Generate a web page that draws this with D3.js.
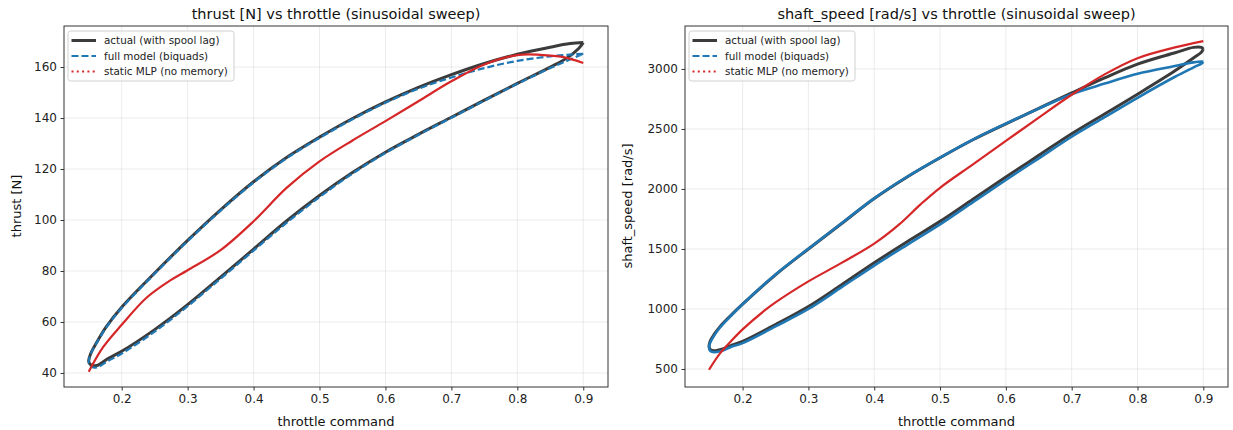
<!DOCTYPE html>
<html>
<head>
<meta charset="utf-8">
<script src="https://cdn.jsdelivr.net/npm/d3@7"></script>
<style>
  body { margin: 0; background: #fff; }
  svg { font-family: "DejaVu Sans", sans-serif; }
</style>
</head>
<body>
<svg id="vis" width="1233" height="430"></svg>
<script>
// ticks
const throttleTicks = [0.2, 0.3, 0.4, 0.5, 0.6, 0.7, 0.8, 0.9];
const thrustTicks = [40, 60, 80, 100, 120, 140, 160];
const speedTicks = [500, 1000, 1500, 2000, 2500, 3000];

const legendLabels = ["actual (with spool lag)", "full model (biquads)", "static MLP (no memory)"];

// thrust panel: loop goes from right tip along upper branch, round left tip, back along lower branch
const thrustActualX = [0.900, 0.880, 0.850, 0.800, 0.750, 0.700, 0.650, 0.600, 0.550, 0.500, 0.450, 0.400, 0.350, 0.300, 0.250, 0.200, 0.177, 0.162, 0.153, 0.150, 0.153, 0.162, 0.180, 0.200, 0.250, 0.300, 0.350, 0.400, 0.450, 0.500, 0.550, 0.600, 0.650, 0.700, 0.750, 0.800, 0.850, 0.875, 0.893, 0.900];
const thrustActualY = [169.6, 169.2, 167.8, 165.0, 161.4, 157.0, 152.0, 146.3, 139.8, 132.5, 124.5, 115.0, 104.0, 92.0, 79.2, 65.8, 58.3, 52.0, 47.6, 44.6, 43.2, 42.9, 45.8, 48.5, 57.0, 66.8, 77.6, 88.6, 99.6, 109.6, 118.6, 126.6, 133.6, 140.3, 147.0, 153.6, 160.0, 163.5, 167.3, 169.6];
const thrustModelX = thrustActualX;
const thrustModelY = [165.2, 164.9, 164.2, 162.4, 159.6, 155.9, 151.5, 146.0, 139.5, 132.2, 124.2, 114.7, 103.7, 91.7, 78.9, 65.5, 58.0, 51.8, 47.6, 44.3, 42.6, 42.2, 44.8, 47.6, 56.2, 66.2, 77.0, 88.0, 98.9, 109.0, 118.2, 126.3, 133.4, 140.1, 146.8, 153.4, 159.6, 162.4, 164.4, 165.2];
const thrustStaticX = [0.150, 0.172, 0.200, 0.238, 0.273, 0.300, 0.350, 0.400, 0.450, 0.500, 0.550, 0.600, 0.650, 0.700, 0.750, 0.800, 0.835, 0.870, 0.900];
const thrustStaticY = [40.5, 50.2, 58.9, 69.6, 76.2, 80.3, 88.2, 99.5, 112.6, 123.0, 131.2, 138.8, 146.6, 154.4, 161.0, 164.7, 164.8, 163.9, 161.6];

// shaft speed panel, same loop order
const speedActualX = [0.900, 0.897, 0.885, 0.857, 0.800, 0.750, 0.700, 0.650, 0.600, 0.550, 0.500, 0.450, 0.400, 0.350, 0.300, 0.250, 0.200, 0.180, 0.166, 0.157, 0.151, 0.149, 0.151, 0.157, 0.170, 0.182, 0.200, 0.250, 0.300, 0.350, 0.400, 0.450, 0.500, 0.550, 0.600, 0.650, 0.700, 0.750, 0.800, 0.857, 0.886, 0.897, 0.900];
const speedActualY = [3165, 3180, 3180, 3135, 3040, 2925, 2800, 2672, 2543, 2410, 2260, 2100, 1920, 1710, 1500, 1285, 1040, 935, 855, 790, 735, 690, 662, 652, 668, 695, 730, 870, 1020, 1200, 1385, 1560, 1730, 1915, 2100, 2280, 2460, 2625, 2790, 2985, 3095, 3140, 3165];
const speedModelX = speedActualX;
const speedModelY = [3060, 3062, 3055, 3025, 2960, 2878, 2790, 2670, 2545, 2412, 2262, 2102, 1922, 1712, 1502, 1287, 1040, 930, 848, 780, 722, 680, 650, 640, 654, 683, 716, 855, 1000, 1180, 1362, 1535, 1705, 1890, 2075, 2255, 2435, 2598, 2760, 2935, 3015, 3045, 3060];
const speedStaticX = [0.149, 0.166, 0.182, 0.200, 0.234, 0.250, 0.300, 0.349, 0.400, 0.438, 0.470, 0.500, 0.550, 0.600, 0.650, 0.700, 0.750, 0.800, 0.857, 0.900];
const speedStaticY = [494, 632, 729, 830, 990, 1055, 1230, 1380, 1545, 1705, 1870, 2010, 2205, 2400, 2595, 2785, 2955, 3090, 3180, 3232];

const svg = d3.select("#vis");
const zip = (xs, ys) => xs.map((x, i) => [x, ys[i]]);

function panel(opts) {
  let x = d3.scaleLinear().domain([0.1125, 0.9375]).range([opts.left, opts.right]);
  let y = d3.scaleLinear().domain(opts.yDomain).range([387, 26]);
  let g = svg.append("g");

  // grid
  g.append("g").selectAll("line").data(throttleTicks).enter().append("line")
    .attr("x1", d => x(d)).attr("x2", d => x(d)).attr("y1", 26).attr("y2", 387)
    .attr("stroke", "#b0b0b0").attr("stroke-opacity", 0.3).attr("stroke-width", 0.8);
  g.append("g").selectAll("line").data(opts.yTicks).enter().append("line")
    .attr("y1", d => y(d)).attr("y2", d => y(d)).attr("x1", opts.left).attr("x2", opts.right)
    .attr("stroke", "#b0b0b0").attr("stroke-opacity", 0.3).attr("stroke-width", 0.8);

  let line = d3.line().x(d => x(d[0])).y(d => y(d[1])).curve(d3.curveCatmullRom.alpha(0.5));
  let clip = "clip" + opts.left;
  svg.append("clipPath").attr("id", clip).append("rect")
    .attr("x", opts.left).attr("y", 26).attr("width", opts.right - opts.left).attr("height", 361);
  let plot = g.append("g").attr("clip-path", "url(#" + clip + ")");

  plot.append("path").attr("d", line(opts.actual)).attr("fill", "none")
    .attr("stroke", "#3b3b3b").attr("stroke-width", 3);
  plot.append("path").attr("d", line(opts.model)).attr("fill", "none")
    .attr("stroke", "#1f77b4").attr("stroke-width", opts.modelWidth)
    .attr("stroke-dasharray", opts.modelDash);
  plot.append("path").attr("d", line(opts.staticMlp)).attr("fill", "none")
    .attr("stroke", "#d62728").attr("stroke-width", 2.2);

  // axes
  let xAxis = d3.axisBottom(x).tickValues(throttleTicks).tickFormat(d3.format(".1f")).tickSize(3.5).tickPadding(3.5);
  let yAxis = d3.axisLeft(y).tickValues(opts.yTicks).tickSize(3.5).tickPadding(3.5).tickFormat(d => d);
  let gx = g.append("g").attr("transform", "translate(0,387)").call(xAxis);
  let gy = g.append("g").attr("transform", "translate(" + opts.left + ",0)").call(yAxis);
  [gx, gy].forEach(a => {
    a.select(".domain").remove();
    a.selectAll("text").attr("font-size", 12).attr("fill", "#222").attr("font-family", "DejaVu Sans");
    a.selectAll("line").attr("stroke", "#333");
  });
  g.append("rect").attr("x", opts.left).attr("y", 26).attr("width", opts.right - opts.left).attr("height", 361)
    .attr("fill", "none").attr("stroke", "#333").attr("stroke-width", 1);

  // labels
  g.append("text").attr("x", (opts.left + opts.right) / 2).attr("y", 19).attr("text-anchor", "middle")
    .attr("font-size", 14.5).attr("fill", "#111").text(opts.title);
  g.append("text").attr("x", (opts.left + opts.right) / 2).attr("y", 426).attr("text-anchor", "middle")
    .attr("font-size", 13).attr("fill", "#111").text("throttle command");
  g.append("text").attr("transform", "translate(" + opts.yLabelX + ",206) rotate(-90)").attr("text-anchor", "middle")
    .attr("font-size", 13).attr("fill", "#111").text(opts.yLabel);

  // legend
  let lg = g.append("g").attr("transform", "translate(" + (opts.left + 4) + ",31)");
  lg.append("rect").attr("width", opts.legendW).attr("height", 50).attr("rx", 2.5)
    .attr("fill", "#fff").attr("fill-opacity", 0.85).attr("stroke", "#d0d0d0");
  let styles = [
    { c: "#3b3b3b", w: 3, dash: null },
    { c: "#1f77b4", w: 2.2, dash: "7,3" },
    { c: "#d62728", w: 2.2, dash: "2,3.3" }
  ];
  legendLabels.forEach((t, i) => {
    let yy = 9.5 + i * 15.5;
    lg.append("line").attr("x1", 3.5).attr("x2", 28).attr("y1", yy).attr("y2", yy)
      .attr("stroke", styles[i].c).attr("stroke-width", styles[i].w).attr("stroke-dasharray", styles[i].dash);
    lg.append("text").attr("x", 36).attr("y", yy + 3.6).attr("font-size", 10.4).attr("fill", "#222").text(t);
  });
}

panel({
  left: 64, right: 608, yDomain: [34.5, 176.1], yTicks: thrustTicks,
  title: "thrust [N] vs throttle (sinusoidal sweep)", yLabel: "thrust [N]", yLabelX: 21,
  actual: zip(thrustActualX, thrustActualY), model: zip(thrustModelX, thrustModelY),
  staticMlp: zip(thrustStaticX, thrustStaticY), modelWidth: 2.2, modelDash: "7,3", legendW: 166
});
panel({
  left: 685, right: 1228, yDomain: [350, 3358], yTicks: speedTicks,
  title: "shaft_speed [rad/s] vs throttle (sinusoidal sweep)", yLabel: "shaft_speed [rad/s]", yLabelX: 632,
  actual: zip(speedActualX, speedActualY), model: zip(speedModelX, speedModelY),
  staticMlp: zip(speedStaticX, speedStaticY), modelWidth: 2.6, modelDash: null, legendW: 166
});
</script>
</body>
</html>
